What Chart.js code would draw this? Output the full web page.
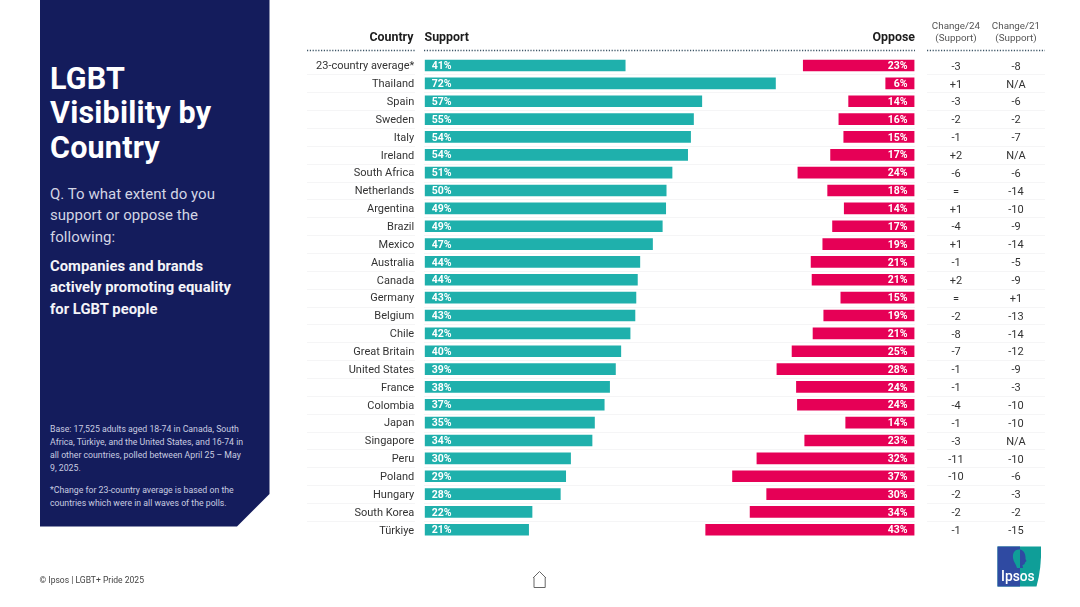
<!DOCTYPE html>
<html lang="en">
<head>
<meta charset="utf-8">
<title>LGBT Visibility by Country</title>
<script src="https://cdn.jsdelivr.net/npm/chart.js@4/dist/chart.umd.min.js"></script>
<style>
html,body{margin:0;padding:0;background:#fff;width:1080px;height:607px;overflow:hidden;font-family:Roboto,"Open Sans",sans-serif}
#chart{position:absolute;left:0;top:0;width:1080px;height:607px}
.abs{position:absolute;white-space:nowrap}
#panel{position:absolute;left:39.5px;top:0;width:230px;height:526.5px;background:#141c5c;clip-path:polygon(0 0,100% 0,100% 494px,197.5px 100%,0 100%)}
#panel div{position:absolute;left:10.5px;white-space:nowrap}
#title{top:62px;font-size:30.5px;line-height:34.3px;font-weight:700;color:#fff;letter-spacing:.2px}
#question{top:184px;font-size:15px;line-height:21.3px;color:#d3d5e4;letter-spacing:.03px}
#subject{top:256px;font-size:14.8px;line-height:21.3px;font-weight:700;color:#f4f4f8;letter-spacing:.03px}
#base{top:423px;font-size:8.72px;line-height:13px;color:#c9cce0}
#note{top:484px;font-size:8.72px;line-height:13px;color:#c9cce0}
.hd{top:29px;font-size:12.4px;font-weight:700;color:#1c1c1c}
.ch{top:20px;font-size:9.8px;line-height:12px;color:#555;text-align:center;width:60px}
#foot{left:39.5px;top:575px;font-size:8.55px;color:#444}
</style>
</head>
<body>
<canvas id="chart" width="1080" height="607"></canvas>
<div id="panel">
  <div id="title">LGBT<br>Visibility by<br>Country</div>
  <div id="question">Q. To what extent do you<br>support or oppose the<br>following:</div>
  <div id="subject">Companies and brands<br>actively promoting equality<br>for LGBT people</div>
  <div id="base">Base: 17,525 adults aged 18-74 in Canada, South<br>Africa, Türkiye, and the United States, and 16-74 in<br>all other countries, polled between April 25 – May<br>9, 2025.</div>
  <div id="note">*Change for 23-country average is based on the<br>countries which were in all waves of the polls.</div>
</div>
<div class="abs hd" style="right:666.5px">Country</div>
<div class="abs hd" style="left:424.5px">Support</div>
<div class="abs hd" style="right:165px">Oppose</div>
<div class="abs ch" style="left:926px">Change/24<br>(Support)</div>
<div class="abs ch" style="left:986px">Change/21<br>(Support)</div>
<div class="abs" id="foot">© Ipsos | LGBT+ Pride 2025</div>
<svg class="abs" style="left:531px;top:570px" width="17" height="19" viewBox="0 0 17 19">
  <path d="M2 8 L8.5 1.5 L15 8 M3 7.5 V17.5 H14.2 V7.5" fill="none" stroke="#666" stroke-width="1"/>
</svg>
<svg class="abs" style="left:997px;top:546px" width="45" height="41" viewBox="0 0 45 41">
  <defs><clipPath id="lh"><rect x="0" y="0" width="23" height="41"/></clipPath><clipPath id="rh"><rect x="23" y="0" width="22" height="41"/></clipPath></defs>
  <path d="M0.5 0.5 H44 C44.5 14 43 28 39.5 40.5 H0.5 Z" fill="#0f9e98"/>
  <rect x="0.5" y="0.5" width="22.5" height="40" fill="#2f4aa2"/>
  <path id="h" d="M22 3.5 C17 3.5 15.5 8 16 12 C16.5 16 19 18 20 22 H26 L25.5 19 C27 19 28 18 28 16.5 L29.5 15 L28.5 13 C29 8 26.5 3.5 22 3.5 Z" fill="#0f9e98" clip-path="url(#lh)"/>
  <path d="M22 3.5 C17 3.5 15.5 8 16 12 C16.5 16 19 18 20 22 H26 L25.5 19 C27 19 28 18 28 16.5 L29.5 15 L28.5 13 C29 8 26.5 3.5 22 3.5 Z" fill="#2f4aa2" clip-path="url(#rh)"/>
  <text x="4" y="34.5" font-family="Roboto,sans-serif" font-size="13.8" font-weight="500" fill="#fff">Ipsos</text>
</svg>
<script>
const categories = ["23-country average*","Thailand","Spain","Sweden","Italy","Ireland","South Africa","Netherlands","Argentina","Brazil","Mexico","Australia","Canada","Germany","Belgium","Chile","Great Britain","United States","France","Colombia","Japan","Singapore","Peru","Poland","Hungary","South Korea","Türkiye"];
const support = [41.1,71.9,56.8,55.1,54.5,53.9,50.7,49.5,49.4,48.7,46.7,44.1,43.6,43.3,43.1,42.1,40.2,39.1,37.9,36.8,34.8,34.3,29.9,28.9,27.8,22.0,21.3];
const oppose = [22.8,5.9,13.5,15.5,14.5,17.2,23.9,17.8,14.4,16.8,18.8,21.2,21.0,15.1,18.6,20.8,25.1,28.2,24.2,24.0,14.1,22.5,32.3,37.3,30.3,33.7,42.8];
const supportLabels = ["41%","72%","57%","55%","54%","54%","51%","50%","49%","49%","47%","44%","44%","43%","43%","42%","40%","39%","38%","37%","35%","34%","30%","29%","28%","22%","21%"];
const opposeLabels = ["23%","6%","14%","16%","15%","17%","24%","18%","14%","17%","19%","21%","21%","15%","19%","21%","25%","28%","24%","24%","14%","23%","32%","37%","30%","34%","43%"];
const change24 = ["-3","+1","-3","-2","-1","+2","-6","=","+1","-4","+1","-1","+2","=","-2","-8","-7","-1","-1","-4","-1","-3","-11","-10","-2","-2","-1"];
const change21 = ["-8","N/A","-6","-2","-7","N/A","-6","-14","-10","-9","-14","-5","-9","+1","-13","-14","-12","-9","-3","-10","-10","N/A","-10","-6","-3","-2","-15"];

const FONT = 'Roboto, "Open Sans", sans-serif';
const AXIS_MAX = 100.4;

const tablePlugin = {
  id: 'table',
  beforeDatasetsDraw(chart) {
    const {ctx, scales: {y}} = chart;
    ctx.save();
    ctx.strokeStyle = '#f5f5f6';
    ctx.lineWidth = 1;
    for (let i = 0; i < categories.length - 1; i++) {
      const yy = Math.round((y.getPixelForValue(i) + y.getPixelForValue(i + 1)) / 2) + 0.5;
      [[307, 415], [424, 915], [927, 1045]].forEach(([x0, x1]) => {
        ctx.beginPath(); ctx.moveTo(x0, yy); ctx.lineTo(x1, yy); ctx.stroke();
      });
    }
    ctx.strokeStyle = '#3d5566';
    ctx.lineWidth = 1.5;
    ctx.setLineDash([1.2, 1.6]);
    [[307, 415], [424, 915], [927, 1045]].forEach(([x0, x1]) => {
      ctx.beginPath(); ctx.moveTo(x0, 50.5); ctx.lineTo(x1, 50.5); ctx.stroke();
    });
    ctx.restore();
  },
  afterDatasetsDraw(chart) {
    const {ctx, scales: {y, xS, xO}} = chart;
    ctx.save();
    ctx.textBaseline = 'middle';
    categories.forEach((c, i) => {
      const yy = y.getPixelForValue(i);
      ctx.fillStyle = '#fff';
      ctx.font = '700 10.5px ' + FONT;
      ctx.textAlign = 'left';
      ctx.fillText(supportLabels[i], xS.getPixelForValue(0) + 7, yy + 1);
      ctx.textAlign = 'right';
      ctx.fillText(opposeLabels[i], xO.getPixelForValue(0) - 7, yy + 1);
      ctx.fillStyle = '#333';
      ctx.font = '400 11px ' + FONT;
      ctx.textAlign = 'center';
      ctx.fillText(change24[i], 956, yy + 1.5);
      ctx.fillText(change21[i], 1016, yy + 1.5);
    });
    ctx.restore();
  }
};

new Chart(document.getElementById('chart'), {
  type: 'bar',
  plugins: [tablePlugin],
  data: {
    labels: categories,
    datasets: [
      {label: 'Support', data: support, xAxisID: 'xS', backgroundColor: '#1fb0ac', barThickness: 11, grouped: false},
      {label: 'Oppose', data: oppose, xAxisID: 'xO', backgroundColor: '#e60056', barThickness: 11, grouped: false}
    ]
  },
  options: {
    indexAxis: 'y',
    responsive: false,
    animation: false,
    devicePixelRatio: 1,
    layout: {padding: {left: 0, top: 56.6, right: 165.5, bottom: 68.3}},
    plugins: {legend: {display: false}, tooltip: {enabled: false}, title: {display: false}},
    scales: {
      xS: {type: 'linear', axis: 'x', position: 'bottom', display: false, min: 0, max: AXIS_MAX},
      xO: {type: 'linear', axis: 'x', position: 'top', display: false, min: 0, max: AXIS_MAX, reverse: true},
      y: {
        type: 'category',
        grid: {display: false, drawTicks: false},
        border: {display: false},
        afterFit(s) { s.width = 424.7; },
        ticks: {color: '#333', font: {family: FONT, size: 11}, padding: 10.5, labelOffset: 1, autoSkip: false}
      }
    }
  }
});
</script>
</body>
</html>
